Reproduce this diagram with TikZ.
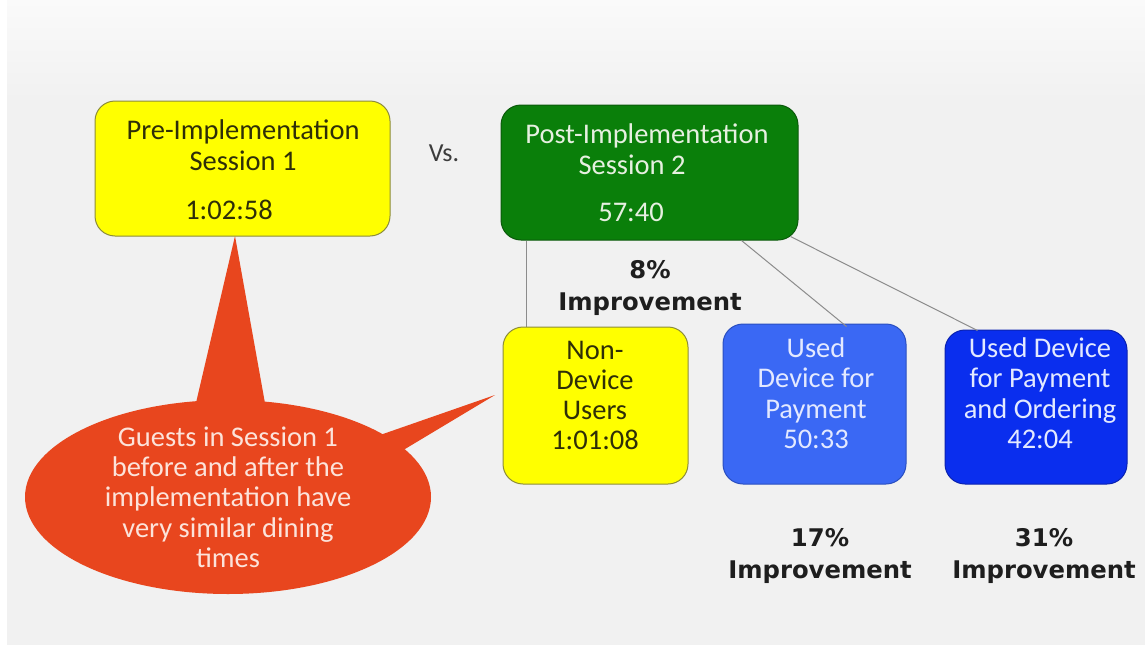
\documentclass[tikz,border=0pt]{standalone}
\usepackage{fontspec}
\setmainfont{Carlito}
\newfontfamily\boldfont{DejaVu Sans}
\usetikzlibrary{calc}
\definecolor{bgtop}{HTML}{FAFAFA}
\definecolor{bgbot}{HTML}{F1F1F1}
\definecolor{yellowc}{HTML}{FFFF00}
\definecolor{yborder}{HTML}{8C8C3A}
\definecolor{greenc}{HTML}{0A7F0A}
\definecolor{gborder}{HTML}{0B5A0B}
\definecolor{blueA}{HTML}{3A68F4}
\definecolor{bAborder}{HTML}{2A4FC0}
\definecolor{blueB}{HTML}{0A2EEE}
\definecolor{bBborder}{HTML}{0A22B0}
\definecolor{callc}{HTML}{E8461E}
\definecolor{calltxt}{HTML}{FCE3DA}
\definecolor{darktxt}{HTML}{2E2E08}
\definecolor{greentxt}{HTML}{E6F0E0}
\definecolor{bluetxt}{HTML}{E3E9FF}
\definecolor{labelc}{HTML}{1E1E1E}
\definecolor{vsc}{HTML}{3C3C3C}
\definecolor{linec}{HTML}{8C8C8C}
\begin{document}
\begin{tikzpicture}[x=1pt,y=-1pt,
  box/.style={draw, rounded corners=20pt, line width=1pt, inner sep=0pt},
  txt/.style={align=center, font=\fontsize{28.5}{31}\selectfont, inner sep=0pt},
  big/.style={align=center, font=\boldfont\bfseries\fontsize{24.3}{32}\selectfont, text=labelc, inner sep=0pt},
  conn/.style={draw=linec, line width=1pt}]
\useasboundingbox (0,0) rectangle (1145,645);
\fill[white] (0,0) rectangle (1145,645);
\fill[bgbot] (7,100) rectangle (1145,645);
\shade[top color=bgtop, bottom color=bgbot] (7,0) rectangle (1145,100.5);

% callout
\fill[callc] (228,497) ellipse [x radius=203pt, y radius=97pt];
\fill[callc] (192,420) -- (235,236) -- (268,420) -- cycle;
\fill[callc] (360,442) -- (495,395) -- (400,452) -- cycle;
\node[txt, text=calltxt, font=\fontsize{28.5}{30.3}\selectfont] (calltext) at (228,497)
  {Guests in Session 1\\before and after the\\implementation have\\very similar dining\\times};

% top boxes
\node[box, draw=yborder, fill=yellowc, minimum width=295pt, minimum height=135pt] (pre) at (242.5,168.5) {};
\node[txt, text=darktxt] (pretxt) at (243,170)
  {Pre-Implementation\\Session 1\\[18pt]1:02:58\rule{28pt}{0pt}};

\node[txt, text=vsc, font=\fontsize{26}{30}\selectfont] (vs) at (444,153.5) {Vs.};

\node[box, draw=gborder, fill=greenc, minimum width=297pt, minimum height=135pt] (post) at (649.5,172.5) {};

% connectors
\draw[conn] ([xshift=26pt]post.south west) -- ([xshift=26pt]post.south west |- 0,333);
\node[box, draw=yborder, fill=yellowc, minimum width=185pt, minimum height=157pt] (nd) at (595.5,405.5) {};
\node[box, draw=bAborder, fill=blueA, minimum width=183pt, minimum height=160pt] (pay) at (814.5,404) {};
\node[box, draw=bBborder, fill=blueB, minimum width=182pt, minimum height=154pt] (ord) at (1036,407) {};
\draw[conn] ([xshift=92pt]post.south) -- ([xshift=32pt,yshift=-3pt]pay.north);
\draw[conn] ([xshift=-8pt,yshift=4pt]post.south east) -- ([xshift=33pt,yshift=-1pt]ord.north west);

\node[txt, text=greentxt] (posttxt) at (647,172.5)
  {Post-Implementation\\Session 2\rule{30pt}{0pt}\\[16pt]57:40\rule{32pt}{0pt}};

\node[txt, text=darktxt, font=\fontsize{28.5}{29.7}\selectfont] (ndtxt) at (595,395.5)
  {Non-\\Device\\Users\\1:01:08};
\node[txt, text=bluetxt, font=\fontsize{28.5}{30.5}\selectfont] (paytxt) at (816,393)
  {Used\\Device for\\Payment\\50:33};
\node[txt, text=bluetxt, font=\fontsize{28.5}{30.5}\selectfont] (ordtxt) at (1040,393)
  {Used Device\\for Payment\\and Ordering\\42:04};

% improvement labels
\node[big] (imp8) at (650,288.5) {8\%\\Improvement};
\node[big] (imp17) at (820,556) {17\%\\Improvement};
\node[big] (imp31) at (1044,556) {31\%\\Improvement};
\end{tikzpicture}
\end{document}
